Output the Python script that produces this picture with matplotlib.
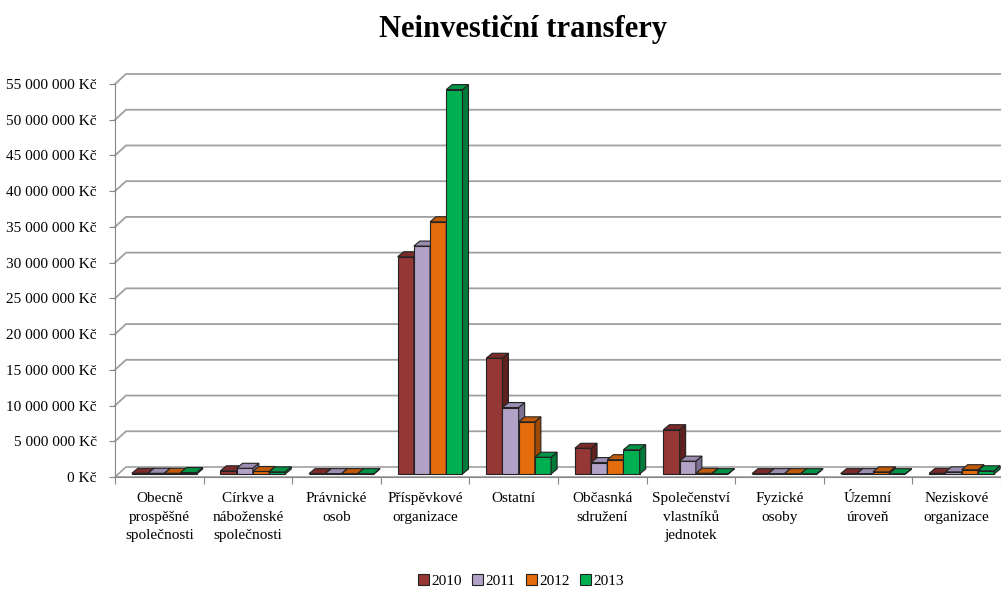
import matplotlib
matplotlib.use('agg')
import matplotlib.pyplot as plt
import numpy as np
from matplotlib.patches import Polygon, Patch

plt.rcParams['font.family'] = ['Liberation Serif', 'DejaVu Serif']

categories = ['Obecně\nprospěšné\nspolečnosti', 'Církve a\nnáboženské\nspolečnosti',
              'Právnické\nosob', 'Příspěvkové\norganizace', 'Ostatní',
              'Občasnká\nsdružení', 'Společenství\nvlastníků\njednotek',
              'Fyzické\nosoby', 'Územní\núroveň', 'Neziskové\norganizace']
years = ['2010', '2011', '2012', '2013']

v2010 = [100000, 450000, 50000, 30400000, 16200000, 3600000, 6200000, 50000, 50000, 100000]
v2011 = [100000, 800000, 50000, 31900000, 9300000, 1600000, 1800000, 50000, 50000, 300000]
v2012 = [100000, 350000, 50000, 35300000, 7300000, 2000000, 100000, 50000, 300000, 600000]
v2013 = [200000, 300000, 50000, 53800000, 2350000, 3400000, 50000, 50000, 50000, 450000]
series = [v2010, v2011, v2012, v2013]

front_col = ['#953735', '#B3A2C7', '#E46C0A', '#00B050']
side_col = ['#5E2120', '#7D6F91', '#9E4A06', '#007A38']
top_col = ['#7A2B29', '#9A8CB0', '#C05A08', '#009444']

W, H = 1001, 592
fig = plt.figure(figsize=(W / 100, H / 100), dpi=100)
x0, x1, y0, y1 = 115, 1001, 477, 84   # front plane in pixels
ax = fig.add_axes([x0 / W, (H - y0) / H, (x1 - x0) / W, (y0 - y1) / H])
ymax = 55e6
ax.set_xlim(0, 10)
ax.set_ylim(0, ymax)

# pixel -> data conversions for the fake depth
px_x = 10 / (x1 - x0)
px_y = ymax / (y0 - y1)
wall_dx, wall_dy = 11 * px_x, 10 * px_y
bar_dx, bar_dy = 6 * px_x, 5 * px_y
base = 3 * px_y

grid_c = '#a0a0a0'
yt = np.arange(0, ymax + 1, 5e6)
for v in yt[1:]:
    ax.plot([0, wall_dx, 10 + wall_dx], [v, v + wall_dy, v + wall_dy],
            color=grid_c, lw=1.3, clip_on=False, zorder=1)

# floor
floor = Polygon([(0, 0), (10 + wall_dx, 0), (10 + wall_dx, wall_dy), (wall_dx, wall_dy)],
                closed=True, facecolor='white', edgecolor=grid_c, lw=1.2,
                clip_on=False, zorder=1)
ax.add_patch(floor)

w = 0.183
z = 3
for i in range(len(categories)):
    for k, vals in enumerate(series):
        v = vals[i]
        xl = i + 0.19 + k * w
        xr = xl + w
        top = base + v
        ax.bar(xl, v, width=w, bottom=base, align='edge', color=front_col[k],
               edgecolor='#222222', lw=0.8, zorder=z)
        ax.add_patch(Polygon([(xr, base), (xr, top), (xr + bar_dx, top + bar_dy),
                              (xr + bar_dx, base + bar_dy)], closed=True,
                             facecolor=side_col[k], edgecolor='#222222', lw=0.8,
                             zorder=z, clip_on=False))
        ax.add_patch(Polygon([(xl, top), (xr, top), (xr + bar_dx, top + bar_dy),
                              (xl + bar_dx, top + bar_dy)], closed=True,
                             facecolor=top_col[k], edgecolor='#222222', lw=0.8,
                             zorder=z, clip_on=False))
        z += 1

for s in ['top', 'right']:
    ax.spines[s].set_visible(False)
ax.spines['left'].set_color('#868686')
ax.spines['bottom'].set_color('#868686')
ax.spines['left'].set_zorder(2)
ax.spines['bottom'].set_zorder(2)

ax.set_yticks(yt)
ax.set_yticklabels(['{:,.0f} Kč'.format(v).replace(',', ' ') for v in yt])
ax.tick_params(axis='y', length=4, color='#868686', pad=9, labelsize=11)
ax.set_xticks(np.arange(0, 11))
ax.set_xticklabels([])
ax.set_xticks(np.arange(10) + 0.5, minor=True)
ax.set_xticklabels(categories, minor=True, fontsize=11, linespacing=1.55, va='top')
ax.tick_params(axis='x', which='major', length=5, color='#868686', direction='out')
ax.tick_params(axis='x', which='minor', length=0, pad=11)

fig.text(523 / W, 1 - 29 / H, 'Neinvestiční transfery', ha='center', va='center',
         fontsize=22, fontweight='bold')

handles = [Patch(facecolor=front_col[k], edgecolor='#222222', lw=0.8) for k in range(4)]
fig.legend(handles, years, loc='center', bbox_to_anchor=(521 / W, 1 - 581 / H),
           ncol=4, frameon=False, fontsize=11, handlelength=0.7, handleheight=0.7,
           handletextpad=0.15, columnspacing=0.7)

fig.savefig('out.png', dpi=100)
